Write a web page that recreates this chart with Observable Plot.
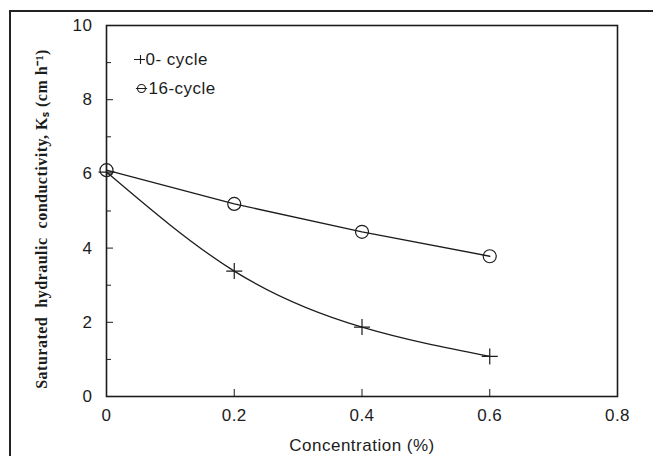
<!DOCTYPE html>
<html>
<head>
<meta charset="utf-8">
<script src="https://cdn.jsdelivr.net/npm/d3@7"></script>
<script src="https://cdn.jsdelivr.net/npm/@observablehq/plot@0.6"></script>
<style>
  html, body { margin: 0; padding: 0; background: #fff; }
  #wrap { position: relative; width: 653px; height: 456px; overflow: hidden; }
  #outer { position: absolute; left: 9px; top: 10px; width: 700px; height: 500px;
           border-left: 2px solid #222; border-top: 2px solid #222; pointer-events: none; }
</style>
</head>
<body>
<div id="wrap"><div id="outer"></div></div>
<script>
// Data
const concentration = [0, 0.2, 0.4, 0.6];
const cycle0 = [6.05, 3.38, 1.87, 1.08];
const cycle16 = [6.1, 5.19, 4.44, 3.78];
const seriesNames = ["0- cycle", "16-cycle"];
const xTicks = [0, 0.2, 0.4, 0.6, 0.8];
const yMajorTicks = [0, 2, 4, 6, 8, 10];
const yMinorTicks = [1, 3, 5, 7, 9];
const xTitle = "Concentration (%)";
const yTitle = "Saturated  hydraulic  conductivity, Kₛ (cm h⁻¹)";

const data0 = concentration.map((c, i) => ({c, v: cycle0[i]}));
const data16 = concentration.map((c, i) => ({c, v: cycle16[i]}));

const plusSym = {draw(ctx, size) {
  const r = Math.sqrt(size / Math.PI);
  ctx.moveTo(-r, 0); ctx.lineTo(r, 0);
  ctx.moveTo(0, -r); ctx.lineTo(0, r);
}};
const legendPlus = {draw(ctx, size) {
  const r = Math.sqrt(size / Math.PI);
  ctx.moveTo(-r * 1.3, 0); ctx.lineTo(r * 0.9, 0);
  ctx.moveTo(0, -r * 0.9); ctx.lineTo(0, r * 0.9);
}};
const legendCircle = {draw(ctx, size) {
  const r = Math.sqrt(size / Math.PI);
  ctx.moveTo(-r * 1.4, 0); ctx.lineTo(r * 1.4, 0);
  ctx.moveTo(r, 0); ctx.arc(0, 0, r, 0, 2 * Math.PI);
}};

const ink = "#1c1c1c";
const sans = "'Liberation Sans', Arial, sans-serif";
const chart = Plot.plot({
  width: 653,
  height: 456,
  marginLeft: 106,
  marginRight: 36,
  marginTop: 25,
  marginBottom: 60,
  x: {domain: [0, 0.8]},
  y: {domain: [0, 10]},
  style: {fontFamily: sans, fontSize: "17px", color: ink, background: "transparent"},
  marks: [
    Plot.frame({stroke: ink, strokeWidth: 1.6}),
    Plot.axisX({ticks: xTicks, tickSize: -7, tickPadding: 19, tickFormat: d => String(d), label: null, fontSize: 17}),
    Plot.axisY({ticks: yMajorTicks, tickSize: -7, tickPadding: 21, tickFormat: d => String(d), label: null, fontSize: 17}),
    Plot.axisY({ticks: yMinorTicks, tickSize: -5, tickFormat: () => "", label: null}),
    Plot.line(data0, {x: "c", y: "v", curve: "natural", stroke: ink, strokeWidth: 1.3}),
    Plot.line(data16, {x: "c", y: "v", stroke: ink, strokeWidth: 1.3}),
    Plot.dot(data16, {x: "c", y: "v", r: 6.5, stroke: ink, fill: "none", strokeWidth: 1.2}),
    Plot.dot(data0, {x: "c", y: "v", r: 8, symbol: plusSym, stroke: ink, fill: "none", strokeWidth: 1.2}),
    // legend
    Plot.dot([seriesNames[0]], {frameAnchor: "top-left", dx: 34, dy: 34, r: 5, symbol: legendPlus, stroke: ink, fill: "none", strokeWidth: 1.1}),
    Plot.text([seriesNames[0]], {frameAnchor: "top-left", dx: 39, dy: 34, text: d => d, textAnchor: "start", lineAnchor: "middle", fontSize: 17, fill: ink}),
    Plot.dot([seriesNames[1]], {frameAnchor: "top-left", dx: 35, dy: 63, r: 4, symbol: legendCircle, stroke: ink, fill: "none", strokeWidth: 1.1}),
    Plot.text([seriesNames[1]], {frameAnchor: "top-left", dx: 42, dy: 63, text: d => d, textAnchor: "start", lineAnchor: "middle", fontSize: 17, fill: ink}),
    // titles
    Plot.text([xTitle], {frameAnchor: "bottom", dy: 49, text: d => d, lineAnchor: "middle", fontSize: 17, fill: ink}),
    Plot.text([yTitle], {frameAnchor: "left", dx: -65, dy: 8, rotate: -90, text: d => d, textAnchor: "middle", lineAnchor: "middle",
      fontFamily: "'Liberation Serif', 'Times New Roman', serif", fontWeight: "bold", fontSize: 16, fill: ink})
  ]
});
chart.style.position = "absolute";
chart.style.left = "0px";
chart.style.top = "0px";
d3.select(chart).selectAll("text").style("letter-spacing", "0.5px");
document.getElementById("wrap").appendChild(chart);
</script>
</body>
</html>
